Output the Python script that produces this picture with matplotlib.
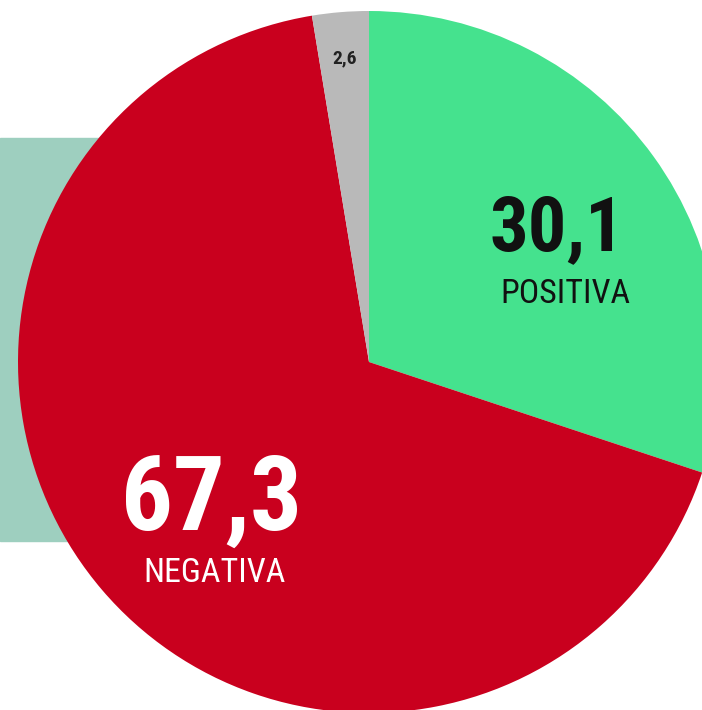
import matplotlib.pyplot as plt
from matplotlib.patches import Rectangle
from matplotlib import font_manager

# data
labels = ['POSITIVA', 'NEGATIVA', '']
values = [30.1, 67.3, 2.6]
value_text = ['30,1', '67,3', '2,6']
colors = ['#45e28e', '#c9001e', '#b9b9b9']

# pick a condensed family (Helvetica Condensed look-alike)
bold_names = {f.name for f in font_manager.fontManager.ttflist if f.weight in (700, 'bold')}
fam = 'DejaVu Sans'
for cand in ['Roboto Condensed', 'Barlow Condensed', 'Asap Condensed', 'Archivo Narrow']:
    if cand in bold_names:
        fam = cand
        break

H = 710
fig = plt.figure(figsize=(7.02, 7.10), dpi=100)
ax = fig.add_axes([0, 0, 1, 1])

# teal box behind the pie
ax.add_patch(Rectangle((0, 169), 200, 403, color='#9ecfbf', zorder=0))

cx, cy, r = 369, 348, 351
ax.pie(values, colors=colors, startangle=90, counterclock=False,
       center=(cx, cy), radius=r, frame=True,
       wedgeprops=dict(linewidth=0, zorder=1))
ax.set_xlim(0, 702)
ax.set_ylim(0, H)
ax.axis('off')

# ------- labels -------
ax.text(557, H - 250, value_text[0], fontsize=55, fontweight='bold', family=fam,
        ha='center', va='baseline', color='#111111', zorder=3)
ax.text(565, H - 303, labels[0], fontsize=24.5, family=fam,
        ha='center', va='baseline', color='#111111', zorder=3)
ax.text(212, H - 530, value_text[1], fontsize=74, fontweight='bold', family=fam,
        ha='center', va='baseline', color='white', zorder=3)
ax.text(215, H - 582, labels[1], fontsize=24.5, family=fam,
        ha='center', va='baseline', color='white', zorder=3)
ax.text(345, H - 63, value_text[2], fontsize=14, fontweight='bold', family=fam,
        ha='center', va='baseline', color='#222222', zorder=3)

fig.savefig('out.png', dpi=100)
